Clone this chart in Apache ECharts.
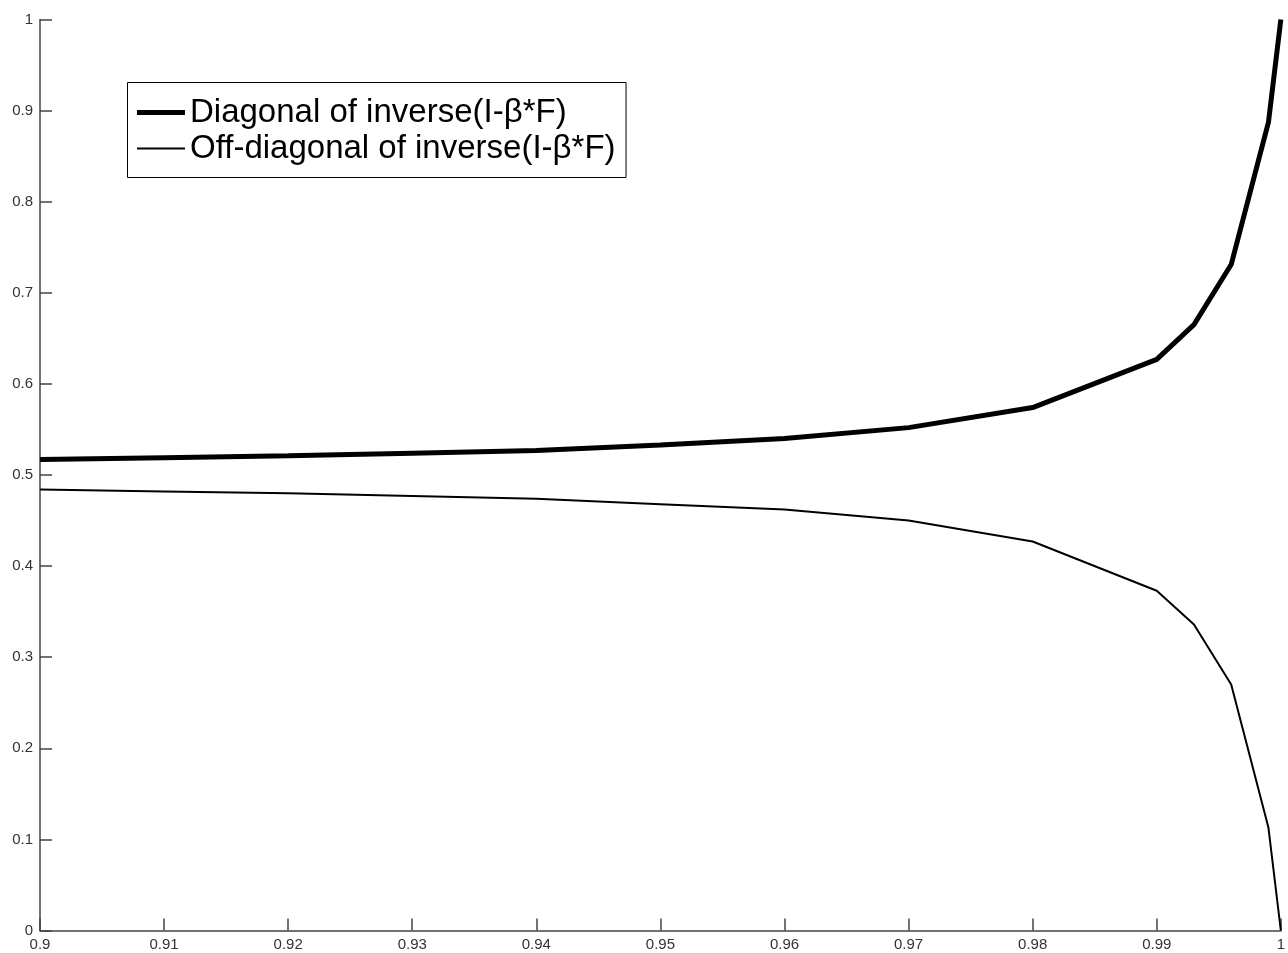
<!DOCTYPE html>
<html>
<head>
<meta charset="utf-8">
<script src="https://cdn.jsdelivr.net/npm/echarts@6/dist/echarts.min.js"></script>
<style>
  html, body { margin: 0; padding: 0; background: #fff; }
  #chart { width: 1288px; height: 953px; }
</style>
</head>
<body>
<div id="chart"></div>
<script>
// beta values on the horizontal axis
const beta = [0.90, 0.91, 0.92, 0.93, 0.94, 0.95, 0.96, 0.97, 0.98, 0.99, 0.993, 0.996, 0.999, 1.0];
// diagonal entries of inverse(I - beta*F), normalised
const diagonal = [0.517, 0.519, 0.521, 0.524, 0.527, 0.533, 0.540, 0.552, 0.574, 0.627, 0.665, 0.731, 0.887, 1.0];
// off-diagonal entries of inverse(I - beta*F), normalised
const offDiagonal = [0.484, 0.482, 0.480, 0.477, 0.474, 0.468, 0.462, 0.450, 0.427, 0.373, 0.336, 0.270, 0.113, 0.0];

const xTickLabels = ['0.9', '0.91', '0.92', '0.93', '0.94', '0.95', '0.96', '0.97', '0.98', '0.99', '1'];
const yTickLabels = ['0', '0.1', '0.2', '0.3', '0.4', '0.5', '0.6', '0.7', '0.8', '0.9', '1'];

const seriesNames = ['Diagonal of inverse(I-\u03B2*F)', 'Off-diagonal of inverse(I-\u03B2*F)'];

const pair = (xs, ys) => xs.map((x, i) => [x, ys[i]]);

const fontFamily = 'Liberation Sans, Arial, sans-serif';
const legendFontSize = 33;
const thickWidth = 5;
const thinWidth = 2;

// measure the longest legend entry so the frame fits the text
const ctx = document.createElement('canvas').getContext('2d');
ctx.font = legendFontSize + 'px ' + fontFamily;
const textWidth = Math.max(...seriesNames.map(s => ctx.measureText(s).width));

const boxLeft = 127, boxTop = 82, padX = 10;
const iconWidth = 48, textGap = 5;
const rowTop1 = 96, rowTop2 = 132;
const boxWidth = padX + iconWidth + textGap + textWidth + padX;
const boxHeight = 95;

const chart = echarts.init(document.getElementById('chart'), null, { renderer: 'canvas' });

const axisColor = '#444';
const labelFont = { fontFamily: fontFamily, fontSize: 15, color: '#333' };

const legendBase = {
  orient: 'vertical',
  left: boxLeft + padX,
  padding: 0,
  itemWidth: iconWidth,
  icon: 'rect',
  textStyle: { fontFamily: fontFamily, fontSize: legendFontSize, color: '#000' },
  selectedMode: false
};

chart.setOption({
  backgroundColor: '#fff',
  animation: false,
  grid: { left: 40, right: 5, top: 19.5, bottom: 22.5, containLabel: false },
  graphic: [{
    type: 'rect',
    left: boxLeft,
    top: boxTop,
    z: 0,
    shape: { width: boxWidth, height: boxHeight },
    style: { fill: '#fff', stroke: '#000', lineWidth: 1 }
  }],
  legend: [
    Object.assign({}, legendBase, {
      top: rowTop1,
      itemHeight: thickWidth,
      data: [{ name: seriesNames[0], itemStyle: { color: '#000' } }],
      z: 10
    }),
    Object.assign({}, legendBase, {
      top: rowTop2,
      itemHeight: thinWidth,
      data: [{ name: seriesNames[1], itemStyle: { color: '#000' } }],
      z: 10
    })
  ],
  xAxis: {
    type: 'value',
    min: 0.9,
    max: 1.0,
    interval: 0.01,
    axisLine: { show: true, lineStyle: { color: axisColor, width: 1.5 } },
    axisTick: { show: true, inside: true, length: 12, lineStyle: { color: axisColor, width: 1.5 } },
    splitLine: { show: false },
    axisLabel: Object.assign({
      margin: 7,
      showMinLabel: true,
      showMaxLabel: true,
      formatter: v => xTickLabels[Math.round((v - 0.9) / 0.01)]
    }, labelFont)
  },
  yAxis: {
    type: 'value',
    min: 0,
    max: 1,
    interval: 0.1,
    axisLine: { show: true, lineStyle: { color: axisColor, width: 1.5 } },
    axisTick: { show: true, inside: true, length: 12, lineStyle: { color: axisColor, width: 1.5 } },
    splitLine: { show: false },
    axisLabel: Object.assign({
      margin: 7,
      formatter: v => yTickLabels[Math.round(v / 0.1)]
    }, labelFont)
  },
  series: [
    {
      name: seriesNames[0],
      type: 'line',
      data: pair(beta, diagonal),
      symbol: 'none',
      lineStyle: { color: '#000', width: thickWidth },
      itemStyle: { color: '#000' }
    },
    {
      name: seriesNames[1],
      type: 'line',
      data: pair(beta, offDiagonal),
      symbol: 'none',
      lineStyle: { color: '#000', width: thinWidth },
      itemStyle: { color: '#000' }
    }
  ]
});
</script>
</body>
</html>
